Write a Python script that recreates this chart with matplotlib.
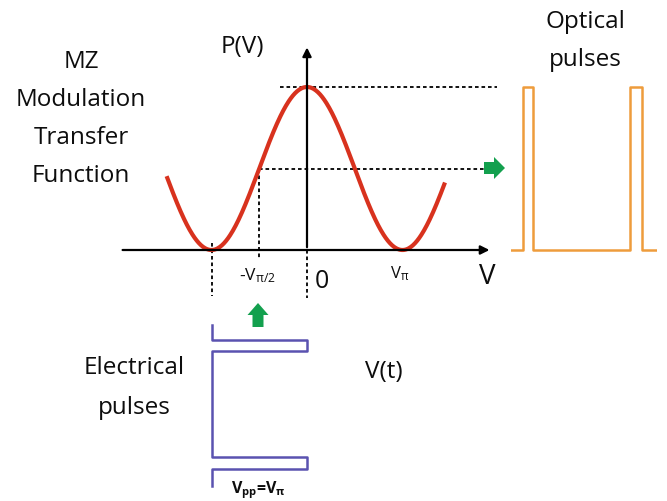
import numpy as np
import matplotlib.pyplot as plt
from matplotlib.patches import FancyArrow

plt.rcParams['font.family'] = ['Open Sans', 'DejaVu Sans']
plt.rcParams['mathtext.default'] = 'regular'

# transfer function range, in units of V_pi
v_start, v_end = -1.47, 1.445
# bias points marked on the curve (V/V_pi, P)
bias_v = [-1.0, -0.5, 0.0]
bias_p = [0.0, 0.5, 1.0]

# pulse trains (normalised time, level 0/1)
opt_t = [0.0, 0.082, 0.082, 0.151, 0.151, 0.815, 0.815, 0.897, 0.897, 1.0]
opt_level = [0, 0, 1, 1, 0, 0, 1, 1, 0, 0]
el_t = [0.0, 0.093, 0.093, 0.161, 0.161, 0.820, 0.820, 0.894, 0.894, 1.0]
el_level = [0, 0, 1, 1, 0, 0, 1, 1, 0, 0]
vpp = 1.0  # Vpp = V_pi

RED = '#D8321E'
BLUE = '#5A52B0'
ORANGE = '#EE9C3C'
GREEN = '#13A04E'
INK = '#0d0d0d'

W, H = 667, 501
fig = plt.figure(figsize=(W / 100, H / 100), dpi=100)

# main axes: x in V/V_pi, y in normalised power
ax = fig.add_axes([0, 0, 1, 1])
ax.set_xlim((0 - 307) / 95.5, (W - 307) / 95.5)
ax.set_ylim((250 - H) / 163, 250 / 163)
ax.axis('off')

v = np.linspace(v_start, v_end, 400)
p = np.cos(np.pi * v / 2) ** 2
ax.plot(v, p, color=RED, lw=3, solid_capstyle='butt', zorder=3)

# axes with arrows
ax.annotate('', xy=(1.94, 0), xytext=(-1.96, 0),
            arrowprops=dict(arrowstyle='-|>', lw=1.6, color='k', mutation_scale=13))
ax.annotate('', xy=(0, 1.26), xytext=(0, 0),
            arrowprops=dict(arrowstyle='-|>', lw=1.6, color='k', mutation_scale=13))

dash = dict(color='k', lw=1.3, linestyle=(0, (2, 1.6)), zorder=2)
# horizontal guides
ax.plot([-0.28, 1.99], [bias_p[2], bias_p[2]], **dash)
ax.plot([bias_v[1], 1.99], [bias_p[1], bias_p[1]], **dash)
# vertical guides down to the electrical drive
ax.plot([bias_v[0], bias_v[0]], [0.04, -0.28], **dash)
ax.plot([bias_v[1], bias_v[1]], [bias_p[1], -0.05], **dash)
ax.plot([bias_v[2], bias_v[2]], [0, -0.295], **dash)

# electrical pulses: x shared with V axis, y = time going down
ax_e = fig.add_axes([0, 0, 1, 1], sharex=ax)
ax_e.set_ylim((H - 325) / 161, -325 / 161)
ax_e.axis('off')
ax_e.patch.set_alpha(0)
ax_e.plot([-vpp + vpp * lv for lv in el_level], el_t, color=BLUE, lw=1.8)

# optical pulses
ax_o = fig.add_axes([511 / W, 0, 146 / W, 1])
ax_o.set_xlim(0, 1)
ax_o.set_ylim(ax.get_ylim())
ax_o.axis('off')
ax_o.patch.set_alpha(0)
ax_o.plot(opt_t, opt_level, color=ORANGE, lw=1.8)

# overlay in pixel units for labels and arrows
ov = fig.add_axes([0, 0, 1, 1])
ov.set_xlim(0, W)
ov.set_ylim(H, 0)
ov.axis('off')
ov.patch.set_alpha(0)

ov.add_patch(FancyArrow(484, 168, 21, 0, width=12, head_width=22, head_length=11,
                        length_includes_head=True, color=GREEN, lw=0))
ov.add_patch(FancyArrow(258, 327, 0, -24, width=11, head_width=21, head_length=12,
                        length_includes_head=True, color=GREEN, lw=0))

big = 17.5
for i, s in enumerate(['MZ', 'Modulation', 'Transfer', 'Function']):
    ov.text(81, 62 + 38 * i, s, fontsize=big, ha='center', va='center', color=INK)
ov.text(585, 22, 'Optical', fontsize=big, ha='center', va='center', color=INK)
ov.text(585, 60, 'pulses', fontsize=big, ha='center', va='center', color=INK)
ov.text(134, 368, 'Electrical', fontsize=big, ha='center', va='center', color=INK)
ov.text(134, 408, 'pulses', fontsize=big, ha='center', va='center', color=INK)
ov.text(384, 372, 'V(t)', fontsize=big, ha='center', va='center', color=INK)
ov.text(242, 47, 'P(V)', fontsize=big, ha='center', va='center', color=INK)
ov.text(322, 282, '0', fontsize=18, ha='center', va='center', color=INK)
ov.text(487, 277, 'V', fontsize=20, ha='center', va='center', color=INK)
ov.text(257, 276, r'-V$_{\pi/2}$', fontsize=12.5, ha='center', va='center', color=INK)
ov.text(400, 274, r'V$_{\pi}$', fontsize=12, ha='center', va='center', color=INK)
ov.text(258, 490, r'V$_{pp}$=V$_{\pi}$', fontsize=11.5, ha='center', va='center',
        color=INK, fontweight='bold')

fig.savefig('out.png', dpi=100)
